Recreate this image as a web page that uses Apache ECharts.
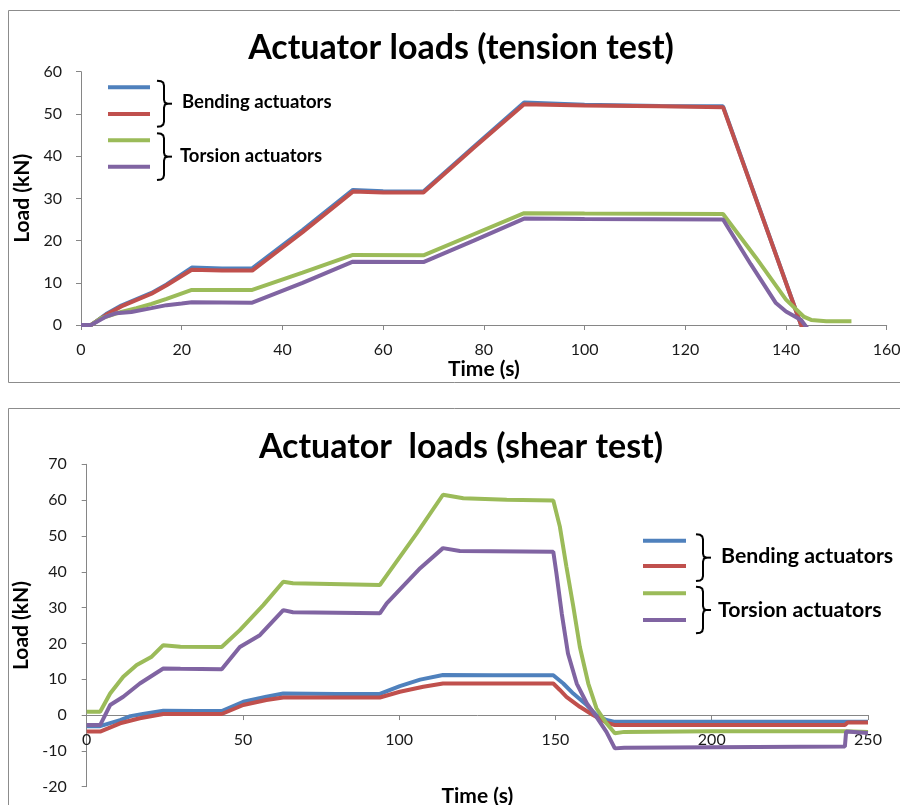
<!DOCTYPE html>
<html><head><meta charset="utf-8">
<script src="https://cdn.jsdelivr.net/npm/echarts@6/dist/echarts.min.js"></script>
<style>html,body{margin:0;padding:0;background:#fff}#c{width:900px;height:805px}</style>
</head><body><div id="c"></div>
<script>
// ---- Tension test (top chart) : [time s, load kN]
var tensionBendingA = [[0,0],[2,0],[5,2.6],[8,4.6],[10,5.6],[14,7.6],[17,9.6],[22,13.6],[28,13.4],[34,13.4],[44,22.5],[54,32],[60,31.7],[68,31.6],[78,42.2],[88,52.7],[100,52.2],[115,51.9],[127.5,51.8],[143,0],[145,-6]];
var tensionBendingB = [[0,0],[2,0],[5,2.4],[8,4.4],[10,5.4],[14,7.4],[17,9.4],[22,13.1],[28,12.9],[34,12.9],[44,22],[54,31.6],[60,31.4],[68,31.4],[78,42],[88,52.3],[100,52],[115,51.8],[127.5,51.6],[143,0],[145,-6]];
var tensionTorsionA = [[0,0],[2,0],[4,1.6],[8,3.1],[11,4],[14,5],[17,6.2],[22,8.3],[34,8.3],[44,12.4],[54,16.6],[68,16.5],[78,21.5],[88,26.5],[100,26.4],[127.5,26.3],[134,16],[140,6],[143.5,2],[145,1.2],[148,0.9],[153,0.9]];
var tensionTorsionB = [[0,0],[2,0],[5,2],[7,2.8],[10,3.1],[14,4],[17,4.7],[20,5.1],[22,5.4],[34,5.3],[44,10],[54,15],[68,14.9],[78,20],[88,25.2],[100,25.1],[127.5,25],[133,14.4],[138,5.2],[140,3.2],[143,1.2],[145,-2]];

// ---- Shear test (bottom chart) : [time s, load kN]
var shearBendingA = [[0,-3.1],[4.3,-3.1],[10.7,-1.4],[14,-0.3],[18,0.3],[24.5,1.2],[35,1.1],[43.2,1.1],[50.1,3.7],[57.5,5.1],[62.9,6],[80,5.9],[93.8,5.9],[100.2,8.1],[106.7,9.9],[114,11.2],[130,11.1],[149.3,11.1],[152.5,8.8],[155.7,6],[160,2.8],[163.1,0],[166.3,-1.4],[169,-1.9],[200,-1.9],[250,-1.9]];
var shearBendingB = [[0,-4.6],[4.3,-4.6],[10.7,-2.3],[17,-0.9],[24.5,0.3],[43.2,0.3],[50.1,2.8],[57.5,4.2],[62.9,4.9],[93.8,4.9],[100.2,6.5],[107.7,7.9],[114,8.8],[149.3,8.8],[151.4,7],[153.5,5.1],[157.8,2.3],[162,0],[166.3,-2.1],[169,-2.8],[242.6,-2.8],[243.5,-2.1],[250,-2.1]];
var shearTorsionA = [[0,0.9],[4.3,0.9],[7.5,6],[11.7,10.7],[16,14],[20.8,16.3],[24.5,19.5],[30,19.1],[43.2,19],[49,23.7],[56.5,30.7],[62.9,37.2],[66,36.8],[93.8,36.3],[96,39],[105.6,50.7],[114,61.5],[120.5,60.5],[134.4,60.1],[149.3,59.9],[151.4,52.6],[153.5,41.4],[155.7,30.3],[157.8,19],[160.5,8.8],[163.1,1.9],[166.3,-2.3],[169,-5.1],[172,-4.7],[200,-4.5],[242.6,-4.5],[250,-4.7]];
var shearTorsionB = [[0,-2.8],[4.3,-2.8],[7.5,2.8],[11.7,5.1],[17,8.8],[24.5,13],[30,12.9],[43.2,12.8],[49,19],[55.4,22.3],[62.9,29.3],[66,28.7],[93.8,28.4],[96,31.2],[106.7,41],[114,46.6],[119.4,45.8],[149.3,45.6],[150.3,39.6],[152,28.4],[154,17.2],[156.8,8.8],[160,3.3],[163.1,-0.5],[166.3,-4.7],[169,-9.3],[172,-9.1],[242.6,-8.8],[243,-4.6],[250,-5]];

var titles = ['Actuator loads (tension test)', 'Actuator  loads (shear test)'];
var legendLabels = ['Bending actuators', 'Torsion actuators'];
var colors = ['#4F81BD', '#C0504D', '#9BBB59', '#8064A2'];

var FONT = 'Lato';
var AX = '#868686';

var G2H = 322.4, Y2MIN = -20, Y2MAX = 70;

function mkX(idx, max, interval, gap, offset) {
  return {
    type: 'value', gridIndex: idx, min: 0, max: max, interval: interval, offset: offset,
    name: 'Time (s)', nameLocation: 'middle', nameGap: gap,
    nameTextStyle: {fontFamily: FONT, fontWeight: 'bold', fontSize: 21, color: '#000'},
    axisLine: {show: true, onZero: false, lineStyle: {color: AX, width: 1}},
    axisTick: {show: true, length: 5, lineStyle: {color: AX}},
    axisLabel: {fontFamily: FONT, fontSize: 16, color: '#1a1a1a', margin: 17},
    splitLine: {show: false}
  };
}
function mkY(idx, min, max, gap, margin) {
  return {
    type: 'value', gridIndex: idx, min: min, max: max, interval: 10,
    name: 'Load (kN)', nameLocation: 'middle', nameGap: gap,
    nameTextStyle: {fontFamily: FONT, fontWeight: 'bold', fontSize: 21, color: '#000'},
    axisLine: {show: true, lineStyle: {color: AX, width: 1}},
    axisTick: {show: true, length: 5, lineStyle: {color: AX}},
    axisLabel: {fontFamily: FONT, fontSize: 16, color: '#1a1a1a', margin: margin},
    splitLine: {show: false}
  };
}
function mkS(data, i, g) {
  return {type: 'line', xAxisIndex: g, yAxisIndex: g, data: data, showSymbol: false, symbol: 'none',
    lineStyle: {color: colors[i], width: 4}, itemStyle: {color: colors[i]}, clip: true, animation: false, z: 2 + i};
}
function bracePoints(bx, t, b) {
  var m = (t + b) / 2;
  return [[bx - 7, t], [bx - 3, t + 0.5], [bx - 0.8, t + 2], [bx, t + 5], [bx, m - 4], [bx + 0.8, m - 1.2], [bx + 3, m], [bx + 0.8, m + 1.2], [bx, m + 4], [bx, b - 5], [bx - 0.8, b - 2], [bx - 3, b - 0.5], [bx - 7, b]];
}
function legendGraphics(x0, x1, ys, braceX, braceSpans, textX, textYs, fs) {
  var g = [];
  for (var i = 0; i < 4; i++) {
    g.push({type: 'line', shape: {x1: x0, y1: ys[i], x2: x1, y2: ys[i]}, style: {stroke: colors[i], lineWidth: 4}});
  }
  for (var j = 0; j < 2; j++) {
    var t = braceSpans[j][0], b = braceSpans[j][1], m = (t + b) / 2;
    g.push({type: 'polyline', shape: {points: bracePoints(braceX, t, b)}, style: {stroke: '#000', lineWidth: 2, fill: null}});
    g.push({type: 'line', shape: {x1: braceX + 2, y1: m, x2: braceX + 8, y2: m}, style: {stroke: '#000', lineWidth: 2}});
    g.push({type: 'text', x: textX[j], y: textYs[j], style: {text: legendLabels[j], fontFamily: FONT, fontWeight: 'bold', fontSize: fs, fill: '#000', textVerticalAlign: 'middle'}});
  }
  return g;
}

var graphics = [
  {type: 'rect', shape: {x: 8.5, y: 10.5, width: 905, height: 372}, style: {stroke: '#8c8c8c', lineWidth: 1, fill: null}, z: -1},
  {type: 'rect', shape: {x: 8.5, y: 408.5, width: 905, height: 420}, style: {stroke: '#8c8c8c', lineWidth: 1, fill: null}, z: -1},
  {type: 'text', x: 461, y: 48, style: {text: titles[0], fontFamily: FONT, fontWeight: 'bold', fontSize: 34, fill: '#000', textAlign: 'center', textVerticalAlign: 'middle'}},
  {type: 'text', x: 461, y: 447, style: {text: titles[1], fontFamily: FONT, fontWeight: 'bold', fontSize: 34, fill: '#000', textAlign: 'center', textVerticalAlign: 'middle'}}
].concat(
  legendGraphics(108, 150, [87.3, 114, 140.3, 166.7], 164, [[80.7, 126.7], [133.3, 180]], [182, 180], [102, 156], 18.5),
  legendGraphics(643, 686, [540.7, 566, 593.3, 620], 703, [[534.3, 581], [586.7, 633.3]], [721, 718], [556, 610.5], 21.3)
);

// x axis of the shear chart sits on the zero line (its labels follow it)
var zeroOffset = -G2H * (0 - Y2MIN) / (Y2MAX - Y2MIN);

var chart = echarts.init(document.getElementById('c'), null, {renderer: 'canvas'});
chart.setOption({
  backgroundColor: '#fff',
  animation: false,
  grid: [
    {left: 81, top: 71.7, width: 805.7, height: 253.3, containLabel: false, outerBoundsMode: 'none'},
    {left: 86.7, top: 464.3, width: 781.3, height: G2H, containLabel: false, outerBoundsMode: 'none'}
  ],
  xAxis: [mkX(0, 160, 20, 31, 0), mkX(1, 250, 50, 71, zeroOffset)],
  yAxis: [mkY(0, 0, 60, 37, 19), mkY(1, Y2MIN, Y2MAX, 42, 20)],
  series: [
    mkS(tensionBendingA, 0, 0), mkS(tensionBendingB, 1, 0), mkS(tensionTorsionA, 2, 0), mkS(tensionTorsionB, 3, 0),
    mkS(shearBendingA, 0, 1), mkS(shearBendingB, 1, 1), mkS(shearTorsionA, 2, 1), mkS(shearTorsionB, 3, 1)
  ],
  graphic: graphics
});
</script></body></html>
